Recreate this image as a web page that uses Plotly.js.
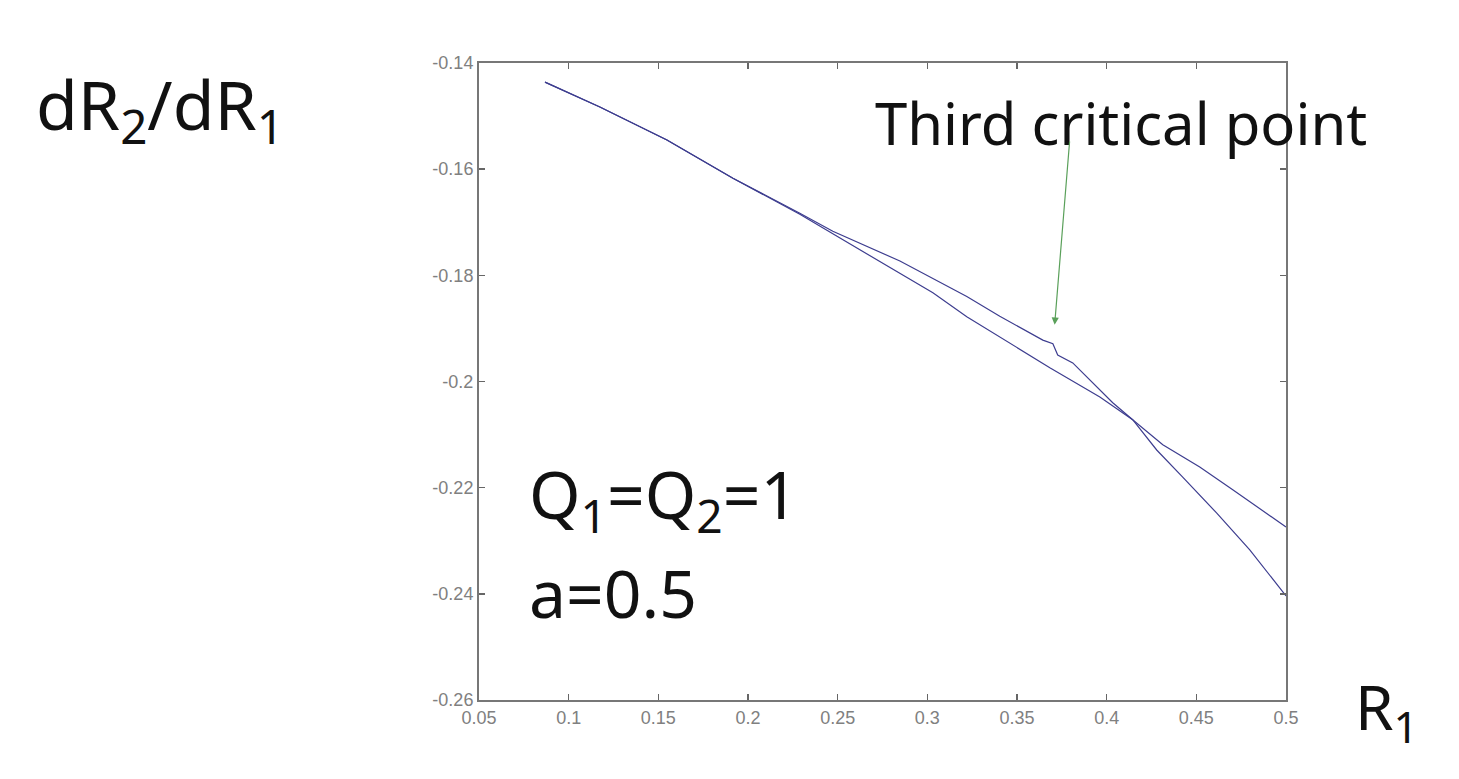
<!DOCTYPE html>
<html>
<head>
<meta charset="utf-8">
<script src="https://cdn.plot.ly/plotly-3.0.1.min.js"></script>
<style>html,body{margin:0;padding:0;background:#fff;}#chart{width:1459px;height:779px;}</style>
</head>
<body>
<div id="chart"></div>
<script>
// Curve A: upper branch with the kink ("third critical point"), ends lower at R1=0.5
const r1A = [0.0868, 0.1174, 0.1548, 0.1916, 0.2289, 0.2473, 0.2847, 0.3220, 0.3404, 0.3644, 0.3700, 0.3727, 0.3811, 0.4034, 0.4145, 0.4279, 0.4424, 0.4614, 0.4798, 0.5000];
const dA  = [-0.1436, -0.1483, -0.1545, -0.1617, -0.1683, -0.1717, -0.1773, -0.1840, -0.1877, -0.1922, -0.1929, -0.1950, -0.1965, -0.2040, -0.2072, -0.2129, -0.2180, -0.2248, -0.2317, -0.2404];
// Curve B: lower branch, shallower at the end
const r1B = [0.0868, 0.1174, 0.1548, 0.1916, 0.2289, 0.2473, 0.2847, 0.3031, 0.3220, 0.3404, 0.3683, 0.3962, 0.4145, 0.4313, 0.4519, 0.4703, 0.5000];
const dB  = [-0.1436, -0.1483, -0.1545, -0.1617, -0.1685, -0.1722, -0.1797, -0.1833, -0.1878, -0.1916, -0.1974, -0.2029, -0.2072, -0.2119, -0.2161, -0.2204, -0.2274];

const xTickVals = [0.05, 0.1, 0.15, 0.2, 0.25, 0.3, 0.35, 0.4, 0.45, 0.5];
const xTickText = ["0.05", "0.1", "0.15", "0.2", "0.25", "0.3", "0.35", "0.4", "0.45", "0.5"];
const yTickVals = [-0.26, -0.24, -0.22, -0.2, -0.18, -0.16, -0.14];
const yTickText = ["-0.26", "-0.24", "-0.22", "-0.2", "-0.18", "-0.16", "-0.14"];

const lineStyle = {color: '#3d3d8f', width: 1.2};
const traces = [
  {x: r1A, y: dA, mode: 'lines', line: lineStyle, hoverinfo: 'skip'},
  {x: r1B, y: dB, mode: 'lines', line: lineStyle, hoverinfo: 'skip'}
];

const bigFont = {family: 'Noto Sans, Open Sans, sans-serif', color: '#111'};
const tickFont = {family: 'Liberation Sans, Arial, sans-serif', size: 18, color: '#808080'};
const layout = {
  width: 1459, height: 779,
  margin: {l: 479, r: 173, t: 63, b: 79},
  paper_bgcolor: '#fff', plot_bgcolor: '#fff',
  showlegend: false,
  xaxis: {
    range: [0.05, 0.5], tickvals: xTickVals, ticktext: xTickText,
    ticks: 'inside', ticklen: 6, tickcolor: '#666', tickwidth: 1.5,
    showline: true, linecolor: '#777', linewidth: 2, mirror: 'ticks',
    showgrid: false, zeroline: false, tickfont: tickFont
  },
  yaxis: {
    range: [-0.26, -0.14], tickvals: yTickVals, ticktext: yTickText,
    ticks: 'inside', ticklen: 6, tickcolor: '#666', tickwidth: 1.5,
    showline: true, linecolor: '#777', linewidth: 2, mirror: 'ticks',
    showgrid: false, zeroline: false, tickfont: tickFont
  },
  annotations: [
    {xref: 'paper', yref: 'paper', x: -0.552, y: 0.93, xanchor: 'left', yanchor: 'middle', showarrow: false,
     text: 'dR<sub>2</sub>/dR<sub>1</sub>', font: Object.assign({size: 68}, bigFont)},
    {xref: 'paper', yref: 'paper', x: 1.083, y: -0.015, xanchor: 'left', yanchor: 'middle', showarrow: false,
     text: 'R<sub>1</sub>', font: Object.assign({size: 62}, bigFont)},
    {xref: 'paper', yref: 'paper', x: 0.06, y: 0.318, xanchor: 'left', yanchor: 'middle', showarrow: false,
     text: 'Q<sub>1</sub>=Q<sub>2</sub>=1', font: Object.assign({size: 66}, bigFont)},
    {xref: 'paper', yref: 'paper', x: 0.06, y: 0.17, xanchor: 'left', yanchor: 'middle', showarrow: false,
     text: 'a=0.5', font: Object.assign({size: 66}, bigFont)},
    {xref: 'paper', yref: 'paper', x: 0.488, y: 0.907, xanchor: 'left', yanchor: 'middle', showarrow: false,
     text: 'Third critical point', font: Object.assign({size: 58}, bigFont)},
    {xref: 'x', yref: 'y', axref: 'x', ayref: 'y', x: 0.371, y: -0.1893, ax: 0.3794, ay: -0.1545,
     showarrow: true, arrowhead: 2, arrowsize: 1.2, arrowwidth: 1.2, arrowcolor: '#5aa05a', text: ''}
  ]
};

Plotly.newPlot('chart', traces, layout, {staticPlot: true, displayModeBar: false});
</script>
</body>
</html>
